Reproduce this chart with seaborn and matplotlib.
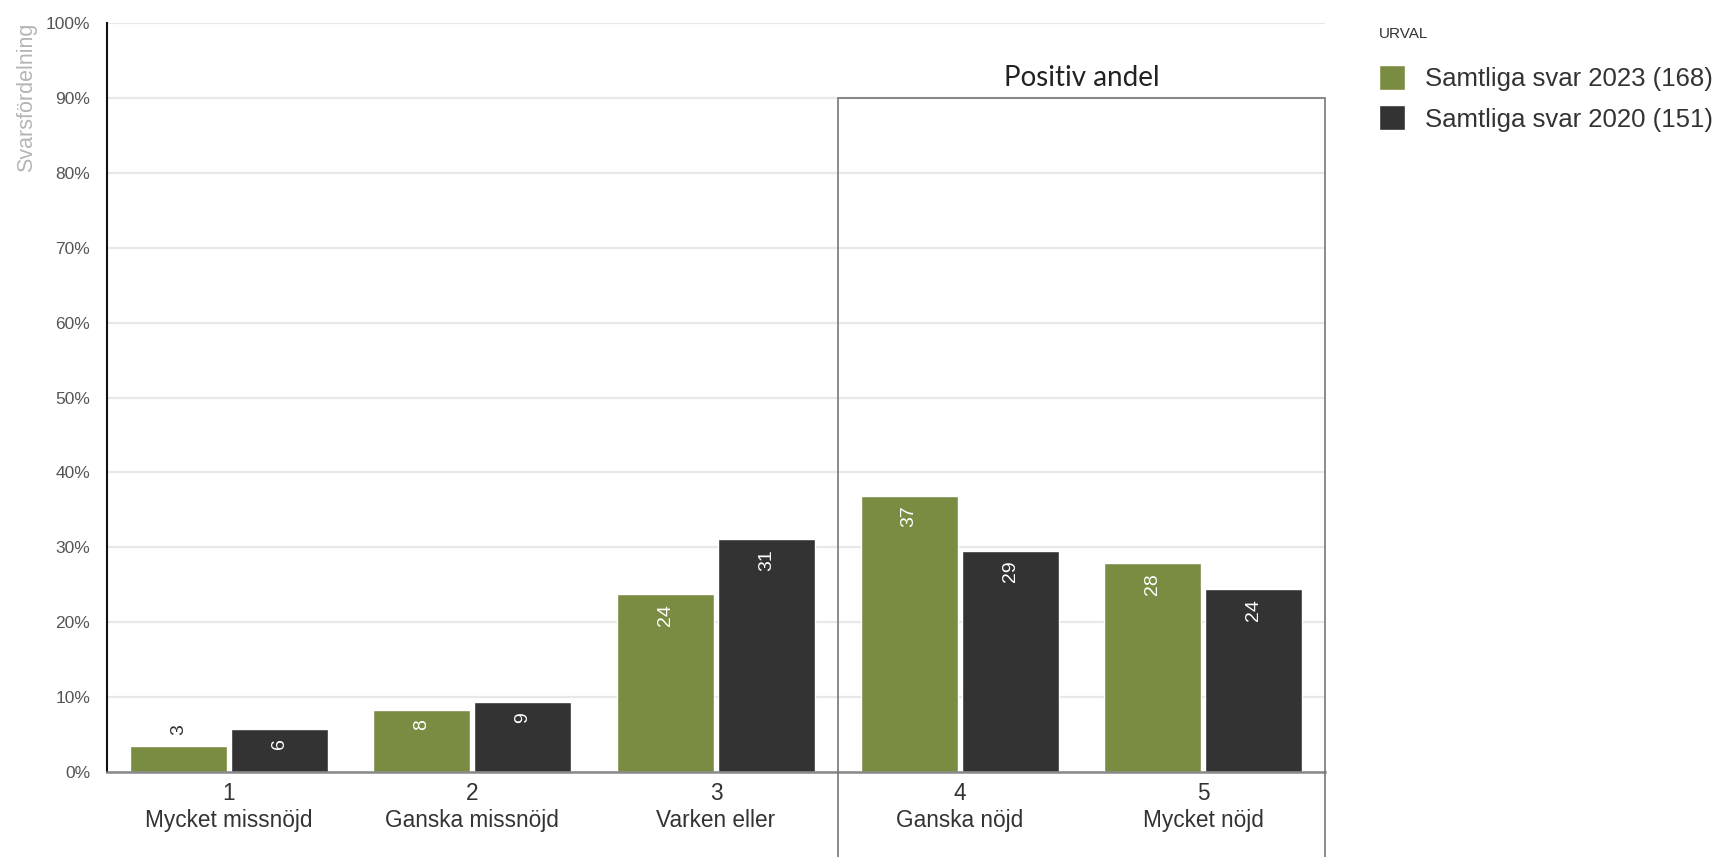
import pandas as pd
import matplotlib
matplotlib.use("Agg")
from matplotlib import pyplot as plt
from matplotlib.patches import Patch, Rectangle
from matplotlib.ticker import FixedLocator, PercentFormatter
import seaborn as sns

sns.set_style("white")
plt.rcParams["font.family"] = ["Liberation Sans", "DejaVu Sans"]

# data (percent of answers)
steps = ["1", "2", "3", "4", "5"]
step_names = ["Mycket missnöjd", "Ganska missnöjd", "Varken eller", "Ganska nöjd", "Mycket nöjd"]
groups = ["Samtliga svar 2023 (168)", "Samtliga svar 2020 (151)"]
share_2023 = [3.5, 8.3, 23.7, 36.9, 27.9]
share_2020 = [5.8, 9.3, 31.1, 29.5, 24.4]
label_2023 = ["3", "8", "24", "37", "28"]
label_2020 = ["6", "9", "31", "29", "24"]
colors = ["#7a8c42", "#333333"]

df = pd.DataFrame({
    "steg": steps * 2,
    "andel": share_2023 + share_2020,
    "urval": [groups[0]] * 5 + [groups[1]] * 5,
})

fig = plt.figure(figsize=(17.19, 8.57), dpi=100)
ax = fig.add_axes([107 / 1719, 85 / 857, (1325 - 107) / 1719, (772 - 23) / 857])

sns.barplot(data=df, x="steg", y="andel", hue="urval", order=steps, hue_order=groups,
            palette=colors, width=0.83, gap=0.04, saturation=1, legend=False, ax=ax)

ax.set_xlim(-0.5, 4.5)
ax.set_ylim(0, 100)
ax.set_yticks(range(0, 101, 10))
ax.yaxis.set_major_formatter(PercentFormatter(decimals=0))
ax.grid(axis="y", color="#e8e8e8", linewidth=1.6)
ax.set_axisbelow(True)

# value labels, rotated, inside the bar top (above if the bar is too short)
for cont, labs in zip(ax.containers, [label_2023, label_2020]):
    for bar, lab in zip(cont, labs):
        h = bar.get_height()
        xc = bar.get_x() + bar.get_width() / 2
        if h < 5:
            ax.annotate(lab, (xc, h), xytext=(0, 8), textcoords="offset points",
                        rotation=90, ha="center", va="bottom", fontsize=14, color="#333333")
        else:
            ax.annotate(lab, (xc, h), xytext=(0, -7), textcoords="offset points",
                        rotation=90, ha="center", va="top", fontsize=14, color="white")

ax.set_xticks(range(5))
ax.set_xticklabels([f"{s}\n{n}" for s, n in zip(steps, step_names)], linespacing=1.22)
ax.tick_params(axis="x", length=0, pad=7, labelsize=16.3, labelcolor="#333333")
ax.xaxis.set_minor_locator(FixedLocator([0.5, 1.5, 2.5, 3.5, 4.5]))
ax.tick_params(axis="x", which="minor", direction="in", length=8, width=1.2, color="#444444")
ax.tick_params(axis="y", length=8, width=1.5, color="#222222", pad=4, labelsize=12.5, labelcolor="#555555")

for side in ["top", "right"]:
    ax.spines[side].set_visible(False)
ax.spines["left"].set_color("#111111")
ax.spines["left"].set_linewidth(1.5)
ax.spines["bottom"].set_color("#888888")
ax.spines["bottom"].set_linewidth(1.8)

ax.set_xlabel("")
ax.set_ylabel("Svarsfördelning", loc="top", fontsize=15.5, color="#b5b5b5", labelpad=6)

# box around the positive share
ybot = -100 * (85 / 857) / ((772 - 23) / 857) - 1
ax.add_patch(Rectangle((2.5, ybot), 2, 90 - ybot, fill=False, edgecolor="#777777",
                       linewidth=1.2, clip_on=False, zorder=5))
ax.text(3.5, 92.7, "Positiv andel", ha="center", va="center", fontsize=20,
        family=["Lato", "DejaVu Sans"], color="#222222")

# legend with its title as a separate text above
fig.text(1379 / 1719, 1 - 34 / 857, "URVAL", ha="left", va="center", fontsize=11, color="#333333")
handles = [Patch(facecolor=c) for c in colors]
leg = ax.legend(handles, groups, loc="upper left",
                bbox_to_anchor=(1379 / 1719, 1 - 65 / 857), bbox_transform=fig.transFigure,
                frameon=False, fontsize=18.5,
                handlelength=1.0, handleheight=1.1, handletextpad=0.8, labelspacing=0.56,
                borderpad=0, borderaxespad=0)
for t in leg.get_texts():
    t.set_color("#333333")

fig.savefig("out.png", dpi=100)
